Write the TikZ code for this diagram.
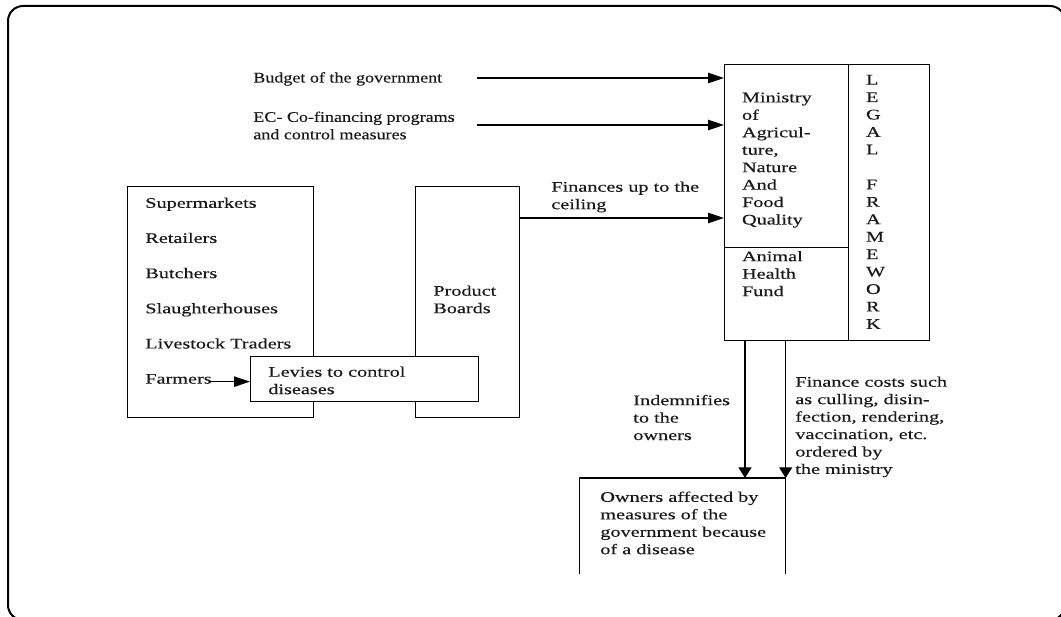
\documentclass[tikz,border=0pt]{standalone}
\usepackage{fontspec}
\setmainfont{Liberation Serif}[FakeStretch=1.38, FakeBold=0.3]
\newfontfamily\narrowfont{Liberation Serif}[FakeStretch=1.23, FakeBold=0.3]
\usepackage{tikz}
\usetikzlibrary{arrows.meta, positioning}

\begin{document}
\begin{tikzpicture}[x=0.6pt, y=-0.6pt, font=\fontsize{8.8pt}{10.47pt}\selectfont]
    \tikzset{
        frame/.style={draw, line width=1.2pt, rounded corners=9pt},
        box/.style={draw, line width=0.75pt, shape = rectangle, anchor=north west, inner sep=0pt},
        box_front/.style={box, fill=white},
        label_text/.style={align=left, inner sep=0pt, text=black!90, anchor=north west},
        item/.style={inner sep=0pt, text=black!90, anchor=base west},
        flow_h/.style={line width=0.75pt, -{Triangle[length=9.5pt, width=6.2pt]}},
        flow_v/.style={line width=0.75pt, -{Triangle[length=6.4pt, width=7.8pt]}}
    }
    \useasboundingbox (0,0) rectangle (1061,617);
    \draw[frame] (8,6) rectangle (1065,620);

    % ministry block
    \node[box, minimum width=74.4pt, minimum height=109.8pt] (ministry) at (724,64) {};
    \node[box, minimum width=74.4pt, minimum height=55.8pt] (fund) at (724,247) {};
    \node[box, minimum width=48.6pt, minimum height=165.6pt] (legal) at (848,64) {};
    \node[label_text] (ministrytext) at ([shift={(17.7,28.3)}]ministry.north west)
        {Ministry\\of\\Agricul-\\ture,\\Nature\\And\\Food\\Quality};
    \node[label_text] (fundtext) at ([shift={(17.7,3.7)}]fund.north west) {Animal\\Health\\Fund};
    \node[label_text] (legaltext) at ([shift={(17.7,10.6)}]legal.north west)
        {L\\E\\G\\A\\L\\[10.47pt]F\\R\\A\\M\\E\\W\\O\\R\\K};

    % sources at the top
    \node[item, font=\narrowfont\fontsize{8.8pt}{10.47pt}\selectfont] (budgetlabel) at (253,82.5) {Budget of the government};
    \node[label_text, font=\narrowfont\fontsize{8.8pt}{10.47pt}\selectfont] (eclabel) at (253,111.2)
        {EC- Co-financing programs\\and control measures};
    \coordinate (budgetstart) at (477,78);
    \coordinate (ecstart) at (477,125);
    \path[flow_h] (budgetstart) edge (budgetstart -| ministry.west);
    \path[flow_h] (ecstart) edge (ecstart -| ministry.west);

    % chain and product boards
    \node[box, minimum width=111.6pt, minimum height=138.6pt] (traders) at (127,186) {};
    \node[box, minimum width=62.4pt, minimum height=138.6pt] (boards) at (415,186) {};
    \node[box_front, minimum width=136.8pt, minimum height=27pt] (levies) at (250,356) {};
    \node[item] (super) at ([shift={(18,21.8)}]traders.north west) {Supermarkets};
    \node[item, below=21.1pt of super.base west, anchor=base west] (retail) {Retailers};
    \node[item, below=21.1pt of retail.base west, anchor=base west] (butch) {Butchers};
    \node[item, below=21.1pt of butch.base west, anchor=base west] (slaught) {Slaughterhouses};
    \node[item, below=21.1pt of slaught.base west, anchor=base west] (livestock) {Livestock Traders};
    \node[item, below=21.1pt of livestock.base west, anchor=base west] (farmers) {Farmers};
    \node[label_text] (leviestext) at ([shift={(18,10.2)}]levies.north west) {Levies to control\\diseases};
    \node[label_text] (boardstext) at ([shift={(18,99.2)}]boards.north west) {Product\\Boards};
    \coordinate (farmout) at ([shift={(-3,-2)}]farmers.base east);
    \path[flow_h] (farmout) edge (farmout -| levies.west);

    \coordinate (boardsout) at ([shift={(0,32)}]boards.north east);
    \path[flow_h] (boardsout) edge (boardsout -| ministry.west);
    \node[label_text] (financeslabel) at (551,181.2) {Finances up to the\\ceiling};

    % owners
    \node[minimum width=123.3pt, minimum height=57pt, anchor=north west, inner sep=0pt] (owners) at (579.5,478) {};
    \draw[line width=0.75pt] (owners.south west) -- (owners.north west) -- (owners.north east) -- (owners.south east);
    \node[label_text] (ownerstext) at ([shift={(20.5,13.2)}]owners.north west)
        {Owners affected by\\measures of the\\government because\\of a disease};
    \coordinate (indemout) at ([shift={(21,0)}]fund.south west);
    \coordinate (costsout) at (owners.north east |- fund.south);
    \path[flow_v] (indemout) edge (indemout |- owners.north);
    \path[flow_v] (costsout) edge (owners.north east);
    \node[label_text] (indemtext) at (633,394.5) {Indemnifies\\to the\\owners};
    \node[label_text] (coststext) at (795,376.2)
        {Finance costs such\\as culling, disin-\\fection, rendering,\\vaccination, etc.\\ordered by\\the ministry};
\end{tikzpicture}
\end{document}
